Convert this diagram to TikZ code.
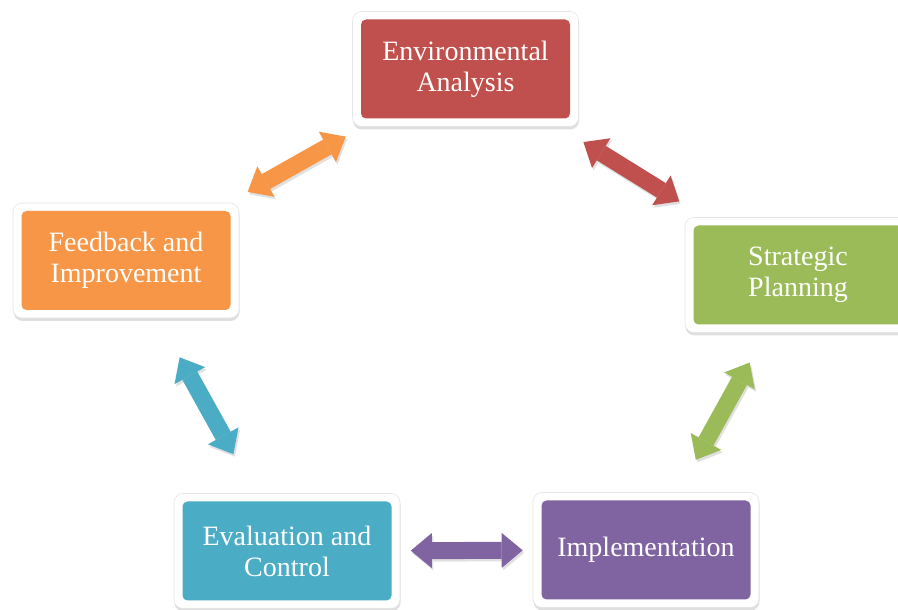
\documentclass[tikz,border=0pt]{standalone}
\usepackage{fontspec}
\setmainfont{Liberation Serif}
\usetikzlibrary{arrows.meta,shadows}
\definecolor{envred}{HTML}{C0504D}
\definecolor{stratgreen}{HTML}{9BBB59}
\definecolor{implpurple}{HTML}{8064A2}
\definecolor{evalteal}{HTML}{4BACC6}
\definecolor{feedorange}{HTML}{F79646}

\begin{document}
\begin{tikzpicture}[x=1pt,y=1pt]

\tikzset{stage/.style={shape=rectangle,rounded corners=9pt,fill=white,draw=black!10,line width=0.6pt,
  minimum width=226pt,minimum height=115pt,inner sep=0pt,align=center,text=white,
  font=\fontsize{28}{31}\selectfont,
  drop shadow={shadow xshift=0.5pt,shadow yshift=-3pt,opacity=.25},
  path picture={\fill[#1,rounded corners=5pt] ([shift={(8.5pt,8pt)}]path picture bounding box.south west)
    rectangle ([shift={(-8.5pt,-8pt)}]path picture bounding box.north east);}},
link/.style={line width=17pt,color=#1,>={Triangle[length=21pt,width=35pt,line width=0pt]},<->}}

\useasboundingbox (0,0) rectangle (898,610);
\clip (0,0) rectangle (898,610);

% Boxes
\node[stage=envred] (env) at (465.5,541) {Environmental\\Analysis};
\node[stage=stratgreen] (strat) at (798,335) {Strategic\\Planning};
\node[stage=implpurple] (impl) at (646,60) {Implementation};
\node[stage=evalteal] (evalc) at (287,59) {Evaluation and\\Control};
\node[stage=feedorange] (feedb) at (126,349.5) {Feedback and\\Improvement};

% Arrows (shadow first, then the arrow)
\foreach \a/\b/\c/\s/\e in {feedb/env/feedorange/22/20, env/strat/envred/29/30,
  strat/impl/stratgreen/34/37, evalc/impl/implpurple/10.5/10, feedb/evalc/evalteal/44.6/44.6}
{
  \draw[link=black!12,transform canvas={shift={(1.5,-2.5)}},shorten <=\s pt,shorten >=\e pt] (\a) -- (\b);
  \draw[link=\c,shorten <=\s pt,shorten >=\e pt] (\a) -- (\b);
}

\end{tikzpicture}
\end{document}
